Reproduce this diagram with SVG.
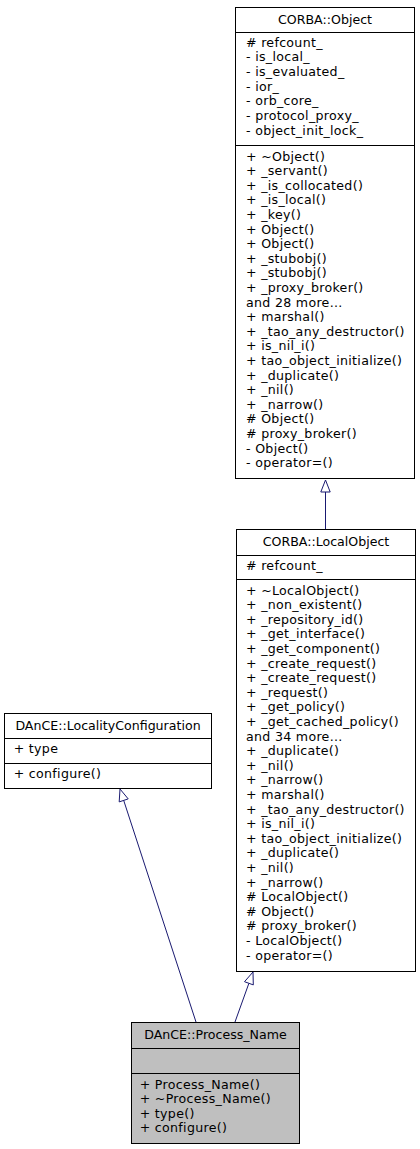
<svg xmlns="http://www.w3.org/2000/svg" width="420" height="1149" viewBox="0 0 420 1149">
<style>
.box{fill:#fff;stroke:#000;stroke-width:1}
.hl{fill:#bfbfbf}
.sep{stroke:#000;stroke-width:1}
text{font-family:"DejaVu Sans","Liberation Sans",sans-serif;font-size:12.6px;fill:#000}
.m{letter-spacing:0.3px}
.c{text-anchor:middle}
.edge{stroke:#191970;stroke-width:1;fill:none}
.head{fill:#fff;stroke:#191970;stroke-width:1}
</style>
<rect width="420" height="1149" fill="#fff"/>
<g id="connectors">
<path class="edge" d="M325.5,529 L325.5,492"/>
<polygon class="head" points="325.5,480 320.8,492 330.2,492"/>
<path class="edge" d="M235,1022 L248.9,983.3"/>
<polygon class="head" points="253,972 244.5,981.7 253.3,984.9"/>
<path class="edge" d="M196,1022 L123.7,800.4"/>
<polygon class="head" points="120,789 119.2,801.9 128.2,798.9"/>
</g>
<g id="corba_object">
<rect class="box" x="235.5" y="7.5" width="179" height="471"/>
<line class="sep" x1="235.5" y1="32.5" x2="414.5" y2="32.5"/>
<line class="sep" x1="235.5" y1="145.5" x2="414.5" y2="145.5"/>
<text class="c" x="325" y="24">CORBA::Object</text>
<text class="m" x="246" y="46.7"><tspan x="246"># refcount_</tspan><tspan x="246" dy="14.65">- is_local_</tspan><tspan x="246" dy="14.65">- is_evaluated_</tspan><tspan x="246" dy="14.65">- ior_</tspan><tspan x="246" dy="14.65">- orb_core_</tspan><tspan x="246" dy="14.65">- protocol_proxy_</tspan><tspan x="246" dy="14.65">- object_init_lock_</tspan></text>
<text class="m" x="246" y="160.5"><tspan x="246">+ ~Object()</tspan><tspan x="246" dy="14.6">+ _servant()</tspan><tspan x="246" dy="14.6">+ _is_collocated()</tspan><tspan x="246" dy="14.6">+ _is_local()</tspan><tspan x="246" dy="14.6">+ _key()</tspan><tspan x="246" dy="14.6">+ Object()</tspan><tspan x="246" dy="14.6">+ Object()</tspan><tspan x="246" dy="14.6">+ _stubobj()</tspan><tspan x="246" dy="14.6">+ _stubobj()</tspan><tspan x="246" dy="14.6">+ _proxy_broker()</tspan><tspan x="246" dy="14.6">and 28 more...</tspan><tspan x="246" dy="14.6">+ marshal()</tspan><tspan x="246" dy="14.6">+ _tao_any_destructor()</tspan><tspan x="246" dy="14.6">+ is_nil_i()</tspan><tspan x="246" dy="14.6">+ tao_object_initialize()</tspan><tspan x="246" dy="14.6">+ _duplicate()</tspan><tspan x="246" dy="14.6">+ _nil()</tspan><tspan x="246" dy="14.6">+ _narrow()</tspan><tspan x="246" dy="14.6"># Object()</tspan><tspan x="246" dy="14.6"># proxy_broker()</tspan><tspan x="246" dy="14.6">- Object()</tspan><tspan x="246" dy="14.6">- operator=()</tspan></text>
</g>
<g id="corba_localobject">
<rect class="box" x="236.5" y="529.5" width="179" height="442"/>
<line class="sep" x1="236.5" y1="555.5" x2="415.5" y2="555.5"/>
<line class="sep" x1="236.5" y1="579.5" x2="415.5" y2="579.5"/>
<text class="c" x="326" y="546">CORBA::LocalObject</text>
<text class="m" x="246" y="570"># refcount_</text>
<text class="m" x="246" y="594.5"><tspan x="246">+ ~LocalObject()</tspan><tspan x="246" dy="14.6">+ _non_existent()</tspan><tspan x="246" dy="14.6">+ _repository_id()</tspan><tspan x="246" dy="14.6">+ _get_interface()</tspan><tspan x="246" dy="14.6">+ _get_component()</tspan><tspan x="246" dy="14.6">+ _create_request()</tspan><tspan x="246" dy="14.6">+ _create_request()</tspan><tspan x="246" dy="14.6">+ _request()</tspan><tspan x="246" dy="14.6">+ _get_policy()</tspan><tspan x="246" dy="14.6">+ _get_cached_policy()</tspan><tspan x="246" dy="14.6">and 34 more...</tspan><tspan x="246" dy="14.6">+ _duplicate()</tspan><tspan x="246" dy="14.6">+ _nil()</tspan><tspan x="246" dy="14.6">+ _narrow()</tspan><tspan x="246" dy="14.6">+ marshal()</tspan><tspan x="246" dy="14.6">+ _tao_any_destructor()</tspan><tspan x="246" dy="14.6">+ is_nil_i()</tspan><tspan x="246" dy="14.6">+ tao_object_initialize()</tspan><tspan x="246" dy="14.6">+ _duplicate()</tspan><tspan x="246" dy="14.6">+ _nil()</tspan><tspan x="246" dy="14.6">+ _narrow()</tspan><tspan x="246" dy="14.6"># LocalObject()</tspan><tspan x="246" dy="14.6"># Object()</tspan><tspan x="246" dy="14.6"># proxy_broker()</tspan><tspan x="246" dy="14.6">- LocalObject()</tspan><tspan x="246" dy="14.6">- operator=()</tspan></text>
</g>
<g id="dance_localityconfiguration">
<rect class="box" x="4.5" y="713.5" width="207" height="75"/>
<line class="sep" x1="4.5" y1="738.5" x2="211.5" y2="738.5"/>
<line class="sep" x1="4.5" y1="763.5" x2="211.5" y2="763.5"/>
<text class="c" x="108" y="730">DAnCE::LocalityConfiguration</text>
<text class="m" x="13.7" y="753">+ type</text>
<text class="m" x="13.7" y="778">+ configure()</text>
</g>
<g id="dance_process_name">
<rect class="box hl" x="131.5" y="1022.5" width="168" height="121"/>
<line class="sep" x1="131.5" y1="1048.5" x2="299.5" y2="1048.5"/>
<line class="sep" x1="131.5" y1="1073.5" x2="299.5" y2="1073.5"/>
<text class="c" x="215.5" y="1039">DAnCE::Process_Name</text>
<text class="m" x="139.7" y="1088.5"><tspan x="139.7">+ Process_Name()</tspan><tspan x="139.7" dy="14.6">+ ~Process_Name()</tspan><tspan x="139.7" dy="14.6">+ type()</tspan><tspan x="139.7" dy="14.6">+ configure()</tspan></text>
</g>
</svg>
